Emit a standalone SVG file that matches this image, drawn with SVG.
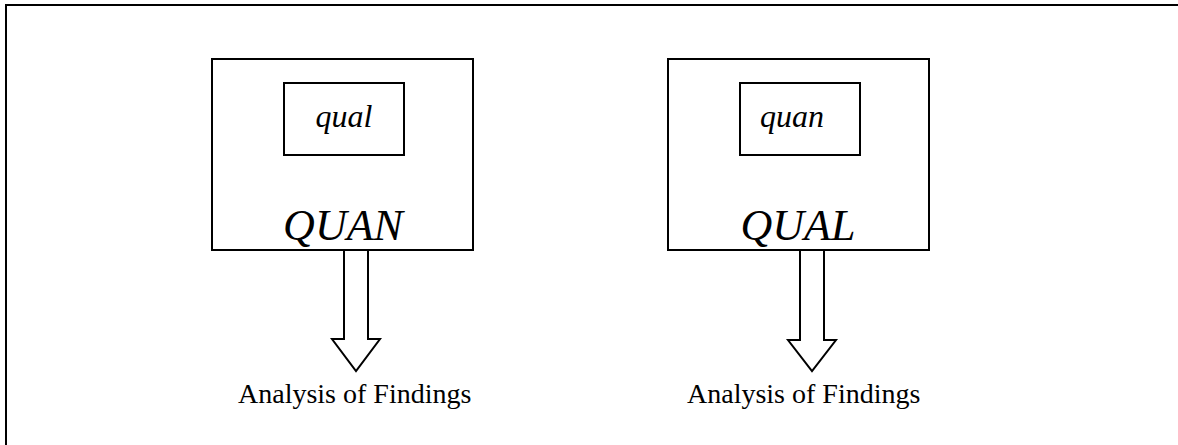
<svg xmlns="http://www.w3.org/2000/svg" width="1178" height="445" viewBox="0 0 1178 445">
<style>
.box{fill:#fff;stroke:#000;stroke-width:2}
.arr{fill:#fff;stroke:#000;stroke-width:2;stroke-linejoin:miter}
.t{font-family:"Liberation Serif",serif;fill:#000}
.it{font-style:italic}
</style>
<rect x="6" y="5" width="1190" height="460" fill="#fff" stroke="#000" stroke-width="2"/>
<g id="connectors">
<path class="arr" d="M344,251 V339 H332 L356,371 L380,339 H368 V251"/>
<path class="arr" d="M800,251 V340 H788 L812,371 L836,340 H824 V251"/>
</g>
<g id="quan-box">
<rect class="box" x="212" y="59" width="261" height="191"/>
<text class="t it" x="343" y="240" font-size="44" text-anchor="middle">QUAN</text>
</g>
<g id="qual-inner">
<rect class="box" x="284" y="83" width="120" height="72"/>
<text class="t it" x="344" y="127" font-size="32" text-anchor="middle">qual</text>
</g>
<g id="qual-box">
<rect class="box" x="668" y="59" width="261" height="191"/>
<text class="t it" x="798" y="240" font-size="44" text-anchor="middle">QUAL</text>
</g>
<g id="quan-inner">
<rect class="box" x="740" y="83" width="120" height="72"/>
<text class="t it" x="792" y="127" font-size="32" text-anchor="middle">quan</text>
</g>
<g id="findings-left">
<text class="t" x="238" y="403" font-size="28">Analysis of Findings</text>
</g>
<g id="findings-right">
<text class="t" x="687" y="403" font-size="28">Analysis of Findings</text>
</g>
</svg>
